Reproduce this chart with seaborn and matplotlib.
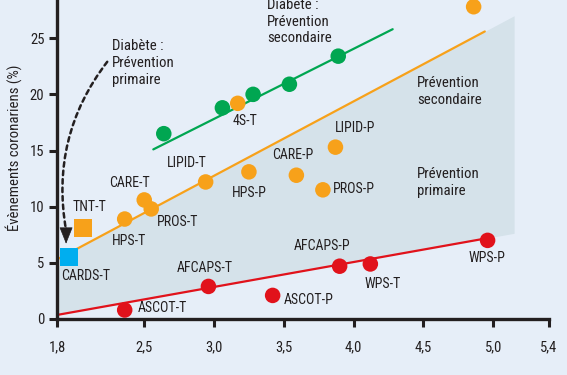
import numpy as np
import pandas as pd
import matplotlib
matplotlib.use("Agg")
import matplotlib.pyplot as plt
from matplotlib import font_manager
import seaborn as sns

# ---------------- data ----------------
green_x = [2.64, 3.06, 3.28, 3.54, 3.89]
green_y = [16.5, 18.8, 20.0, 20.9, 23.4]

orange_names = ["4S-T", "4S-P", "LIPID-T", "HPS-P", "CARE-P", "LIPID-P", "PROS-P",
                "CARE-T", "PROS-T", "HPS-T"]
orange_x = [3.17, 4.86, 2.94, 3.25, 3.59, 3.87, 3.78, 2.50, 2.55, 2.36]
orange_y = [19.2, 27.8, 12.2, 13.1, 12.8, 15.3, 11.5, 10.6, 9.8, 8.9]

square_names = ["TNT-T", "CARDS-T"]
square_x = [2.06, 1.96]
square_y = [8.1, 5.5]

red_names = ["ASCOT-T", "AFCAPS-T", "ASCOT-P", "AFCAPS-P", "WPS-T", "WPS-P"]
red_x = [2.36, 2.96, 3.42, 3.90, 4.12, 4.96]
red_y = [0.8, 2.9, 2.1, 4.7, 4.9, 7.0]

# fitted lines (end points)
green_line_x = [2.565, 4.28]
green_line_y = [15.1, 25.8]
orange_line_x = [1.875, 4.94]
orange_line_y = [5.3, 25.6]
red_line_x = [1.875, 4.96]
red_line_y = [0.36, 7.2]
zone_x = [1.875, 5.15]
zone_low = [0.36, 7.63]
zone_high = [5.3, 27.0]

x_ticks = [1.875, 2.5, 3.0, 3.5, 4.0, 4.5, 5.0, 5.4]
x_tick_labels = ["1,8", "2,5", "3,0", "3,5", "4,0", "4,5", "5,0", "5,4"]
y_ticks = [0, 5, 10, 15, 20, 25]

# ---------------- style ----------------
fonts = font_manager.fontManager.ttflist
names = {f.name for f in fonts}
FONT, STRETCH, FS = "Liberation Sans", "normal", 9
if "Liberation Sans Narrow" in names:
    FONT, STRETCH, FS = "Liberation Sans Narrow", "normal", 10
else:
    for fam in ["Roboto Condensed", "Open Sans Condensed", "Noto Sans Condensed",
                "DejaVu Sans Condensed"]:
        if fam in names:
            FONT, STRETCH, FS = fam, "normal", 10
            break
    else:
        for fam in ["Noto Sans", "Open Sans", "Roboto", "DejaVu Sans"]:
            if any(f.name == fam and str(f.stretch) in ("condensed", "semi-condensed", "75", "87.5", "62.5")
                   for f in fonts):
                FONT, STRETCH, FS = fam, "condensed", 10
                break
FS_BIG = FS + 0.6

BG = "#E6EEF8"
SHADE = "#D5E2EA"
GREEN = "#00A651"
ORANGE = "#F7A11A"
RED = "#E1121B"
CYAN = "#00AEEF"
INK = "#231F20"

sns.set_theme(style="white")
plt.rcParams["font.family"] = [FONT, "DejaVu Sans"]
plt.rcParams["font.stretch"] = STRETCH
TXT = dict(fontsize=FS, color=INK, fontstretch=STRETCH)
BIG = dict(fontsize=FS_BIG, color=INK, fontstretch=STRETCH)

fig = plt.figure(figsize=(5.67, 3.75), dpi=100, facecolor=BG)
ax = fig.add_axes([57 / 567, 56 / 375, 492 / 567, 319 / 375])
ax.set_facecolor(BG)

# zone between red and orange lines
ax.fill_between(zone_x, zone_low, zone_high, color=SHADE, lw=0, zorder=1)

# lines
lines = pd.DataFrame({
    "x": green_line_x + orange_line_x + red_line_x,
    "y": green_line_y + orange_line_y + red_line_y,
    "g": ["green"] * 2 + ["orange"] * 2 + ["red"] * 2,
})
sns.lineplot(data=lines, x="x", y="y", hue="g",
             palette={"green": GREEN, "orange": ORANGE, "red": RED},
             lw=1.6, legend=False, ax=ax, zorder=2, estimator=None, sort=False)

# points
pts = pd.DataFrame({
    "x": green_x + orange_x + red_x,
    "y": green_y + orange_y + red_y,
    "g": ["green"] * len(green_x) + ["orange"] * len(orange_x) + ["red"] * len(red_x),
})
sns.scatterplot(data=pts, x="x", y="y", hue="g",
                palette={"green": GREEN, "orange": ORANGE, "red": RED},
                s=125, linewidth=0, legend=False, ax=ax, zorder=3)
sq = pd.DataFrame({"x": square_x, "y": square_y, "n": square_names})
sns.scatterplot(data=sq, x="x", y="y", hue="n",
                palette={"TNT-T": ORANGE, "CARDS-T": CYAN},
                marker="s", s=175, linewidth=0, legend=False, ax=ax, zorder=3)

# labels (pixel offsets from the point); 4S-P label lies outside the picture
offsets = {
    "4S-T": (-5, -18), "LIPID-T": (-39, 19), "HPS-P": (-17, -21),
    "CARE-P": (-24, 20), "LIPID-P": (-1, 19), "PROS-P": (10, 1), "CARE-T": (-35, 17),
    "PROS-T": (6, -13), "HPS-T": (-13, -22), "TNT-T": (-10, 21), "CARDS-T": (-8, -19),
    "ASCOT-T": (13, 2), "AFCAPS-T": (-32, 18), "ASCOT-P": (11, -5), "AFCAPS-P": (-46, 20),
    "WPS-T": (-6, -20), "WPS-P": (-19, -18),
}
for nm, xx, yy in zip(orange_names + square_names + red_names,
                      orange_x + square_x + red_x,
                      orange_y + square_y + red_y):
    if nm not in offsets:
        continue
    dx, dy = offsets[nm]
    ax.annotate(nm, (xx, yy), xytext=(dx, dy), textcoords="offset pixels",
                ha="left", va="center", zorder=4, annotation_clip=False, **TXT)

# region texts
ax.text(2.27, 24.9, "Diabète :\nPrévention\nprimaire", ha="left", va="top",
        linespacing=1.25, **BIG)
ax.text(3.38, 28.6, "Diabète :\nPrévention\nsecondaire", ha="left", va="top",
        linespacing=1.25, clip_on=False, **BIG)
ax.text(4.455, 21.6, "Prévention\nsecondaire", ha="left", va="top",
        linespacing=1.25, **BIG)
ax.text(4.455, 13.5, "Prévention\nprimaire", ha="left", va="top",
        linespacing=1.25, **BIG)

# dotted curved arrow
ax.annotate("", xy=(1.94, 7.9), xytext=(2.235, 22.9),
            arrowprops=dict(arrowstyle="-", color=INK, lw=1.8,
                            linestyle=(0, (1.8, 1.6)),
                            connectionstyle="arc3,rad=0.22",
                            shrinkA=0, shrinkB=0))
ax.annotate("", xy=(1.94, 6.7), xytext=(1.94, 8.2),
            arrowprops=dict(arrowstyle="-|>,head_length=0.9,head_width=0.36",
                            color=INK, lw=0.5, shrinkA=0, shrinkB=0))

# axes
ax.set_xlim(1.875, 5.4)
ax.set_ylim(0, 28.4)
ax.set_xticks(x_ticks)
ax.set_xticklabels(x_tick_labels, fontstretch=STRETCH)
ax.set_yticks(y_ticks)
ax.set_yticklabels([str(v) for v in y_ticks], fontstretch=STRETCH)
ax.tick_params(axis="both", direction="out", length=6, width=2.2, color=INK,
               labelcolor=INK, labelsize=FS + 0.5, bottom=True, left=True)
ax.tick_params(axis="x", pad=9)
ax.tick_params(axis="y", pad=3)
for side in ["top", "right"]:
    ax.spines[side].set_visible(False)
for side in ["left", "bottom"]:
    ax.spines[side].set_color(INK)
    ax.spines[side].set_linewidth(2.4)
ax.set_xlabel("")
ax.set_ylabel("Évènements coronariens (%)", **BIG)
ax.yaxis.set_label_coords(-0.072, 0.536)
ax.grid(False)

fig.savefig("out.png", dpi=100, facecolor=BG)
